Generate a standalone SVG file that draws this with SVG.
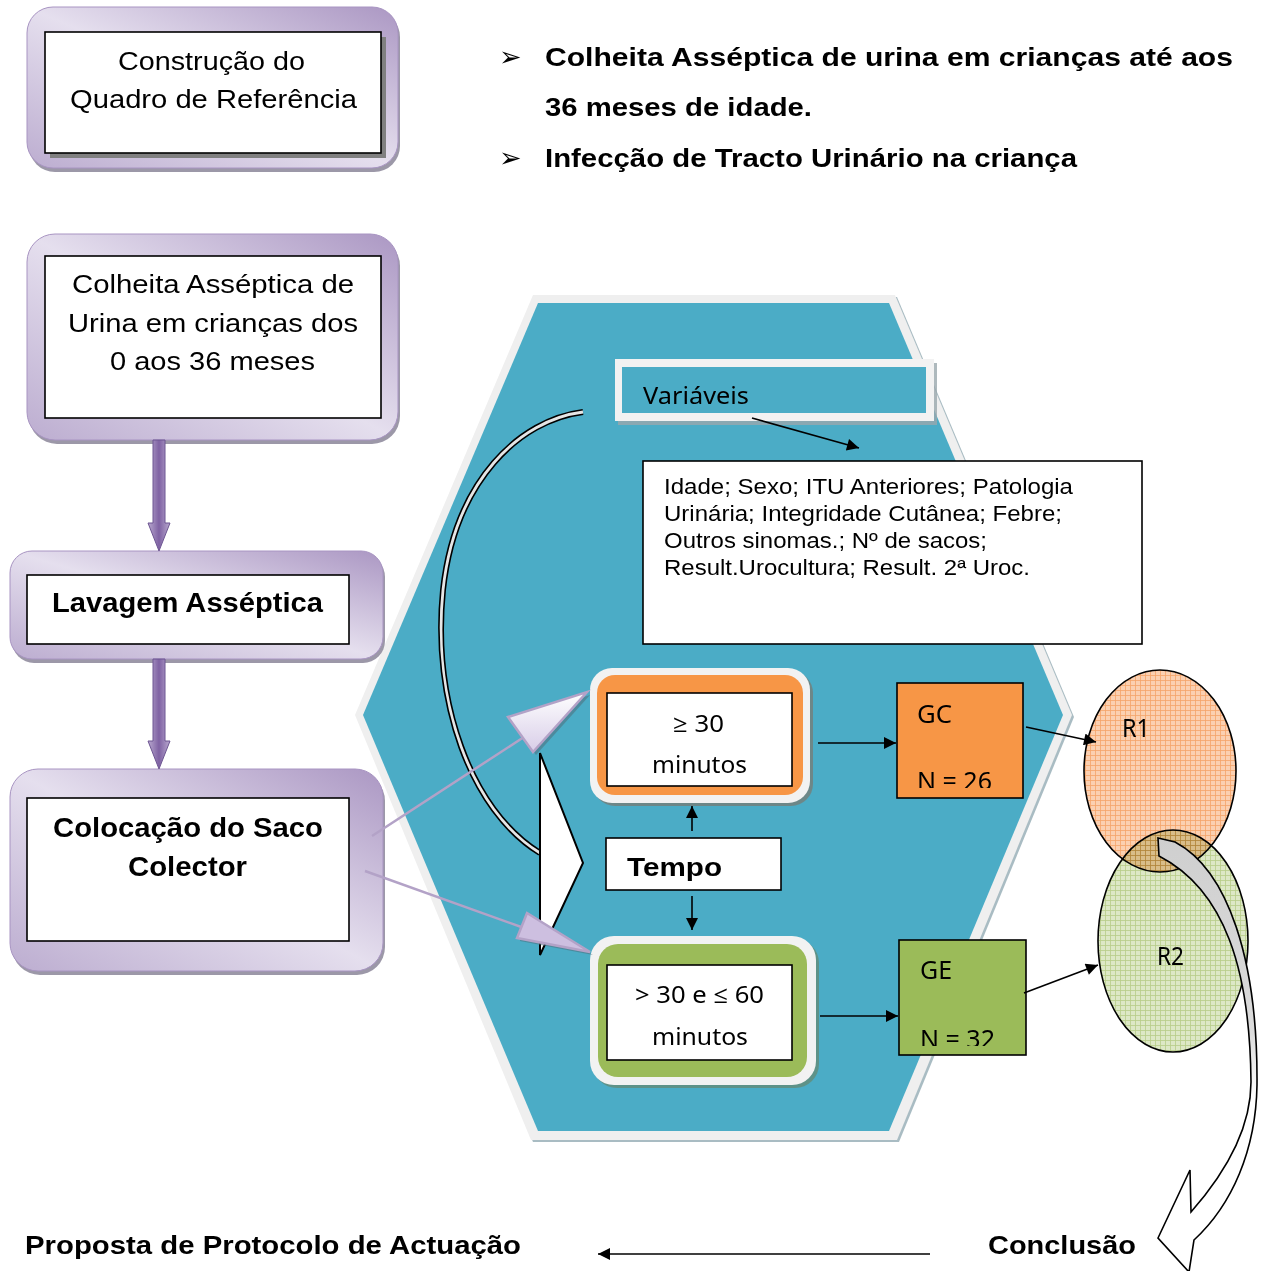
<svg xmlns="http://www.w3.org/2000/svg" width="1261" height="1271" viewBox="0 0 1261 1271">
<defs>
<style>
.ar{font-family:"Liberation Sans",Arial,sans-serif;fill:#000}
.b{font-weight:bold}
.cal{font-family:"Noto Sans","Open Sans",sans-serif;fill:#000}
.wbox{fill:#fff;stroke:#000;stroke-width:1.6}
.pbox{fill:url(#pg);stroke:#a894c2;stroke-width:1}
.pshadow{fill:#9c98a8}
.conn{stroke:#000;stroke-width:1.6;fill:none}
.lav{stroke:#b3a2c7;stroke-width:2.5;fill:none}
.bul{font-family:"DejaVu Sans",sans-serif;fill:#000}
</style>
<linearGradient id="pg" x1="0" y1="1" x2="1" y2="0">
<stop offset="0" stop-color="#bcadd0"/>
<stop offset="0.5" stop-color="#e5dfee"/>
<stop offset="1" stop-color="#ab97c3"/>
</linearGradient>
<linearGradient id="shaft" x1="0" y1="0" x2="1" y2="0">
<stop offset="0" stop-color="#b9a9cf"/>
<stop offset="0.5" stop-color="#7f62a3"/>
<stop offset="1" stop-color="#b9a9cf"/>
</linearGradient>
<linearGradient id="lg" x1="0" y1="0" x2="0" y2="1">
<stop offset="0" stop-color="#ffffff"/>
<stop offset="1" stop-color="#d8cde8"/>
</linearGradient>
<linearGradient id="bandg" x1="0" y1="0" x2="0" y2="1">
<stop offset="0" stop-color="#cfcfcf"/>
<stop offset="0.45" stop-color="#dcdcdc"/>
<stop offset="0.6" stop-color="#ffffff"/>
</linearGradient>
<pattern id="pOr" width="5" height="5" patternUnits="userSpaceOnUse">
<rect width="5" height="5" fill="#fbd0b1"/>
<path d="M0,0.5H5M0.5,0V5" stroke="#f5a469" stroke-width="0.8"/>
</pattern>
<pattern id="pGr" width="5" height="5" patternUnits="userSpaceOnUse">
<rect width="5" height="5" fill="#dde8c6"/>
<path d="M0,0.5H5M0.5,0V5" stroke="#b7cd89" stroke-width="0.8"/>
</pattern>
<marker id="arr" viewBox="0 0 10 10" refX="10" refY="5" markerUnits="userSpaceOnUse" markerWidth="15" markerHeight="12" orient="auto">
<path d="M0,0L10,5L0,10z" fill="#000"/>
</marker>
<clipPath id="clipGC"><rect x="897" y="683" width="127" height="105"/></clipPath>
<clipPath id="clipGE"><rect x="899" y="940" width="128" height="106"/></clipPath>
</defs>

<rect width="1261" height="1271" fill="#fff"/>

<g id="hexagon">
<polygon points="535,297 897,297 1074,717 899,1142 533,1142 357,717" fill="#a9bcc3"/>
<polygon points="533,295 895,295 1072,715 897,1140 531,1140 355,715" fill="#efefef"/>
<polygon points="538,303 889,303 1063,715 889,1131 538,1131 363,715" fill="#4bacc6"/>
</g>

<g id="bullets">
<text class="bul" x="499" y="66" font-size="27">➢</text>
<text class="bul" x="499" y="167" font-size="27">➢</text>
<text class="ar b" x="545" y="66" font-size="26" textLength="688" lengthAdjust="spacingAndGlyphs">Colheita Asséptica de urina em crianças até aos</text>
<text class="ar b" x="545" y="116" font-size="26" textLength="267" lengthAdjust="spacingAndGlyphs">36 meses de idade.</text>
<text class="ar b" x="545" y="167" font-size="26" textLength="532" lengthAdjust="spacingAndGlyphs">Infecção de Tracto Urinário na criança</text>
</g>

<g id="node-construcao">
<rect class="pshadow" x="29" y="11" width="371" height="161" rx="26"/>
<rect class="pbox" x="27" y="7" width="371" height="161" rx="26"/>
<rect x="50" y="37" width="336" height="121" fill="#808080"/>
<rect class="wbox" x="45" y="32" width="336" height="121"/>
<text class="ar" x="118" y="70" font-size="26" textLength="187" lengthAdjust="spacingAndGlyphs">Construção do</text>
<text class="ar" x="70" y="108" font-size="26" textLength="287" lengthAdjust="spacingAndGlyphs">Quadro de Referência</text>
</g>

<g id="node-colheita">
<rect class="pshadow" x="29" y="238" width="371" height="206" rx="28"/>
<rect class="pbox" x="27" y="234" width="371" height="206" rx="28"/>
<rect class="wbox" x="45" y="256" width="336" height="162"/>
<text class="ar" x="72" y="293" font-size="26" textLength="282" lengthAdjust="spacingAndGlyphs">Colheita Asséptica de</text>
<text class="ar" x="68" y="332" font-size="26" textLength="290" lengthAdjust="spacingAndGlyphs">Urina em crianças dos</text>
<text class="ar" x="110" y="370" font-size="26" textLength="205" lengthAdjust="spacingAndGlyphs">0 aos 36 meses</text>
</g>

<g id="node-lavagem">
<rect class="pshadow" x="12" y="555" width="373" height="108" rx="22"/>
<rect class="pbox" x="10" y="551" width="373" height="108" rx="22"/>
<rect class="wbox" x="27" y="575" width="322" height="69"/>
<text class="ar b" x="52" y="612" font-size="27" textLength="271" lengthAdjust="spacingAndGlyphs">Lavagem Asséptica</text>
</g>

<g id="node-colocacao">
<rect class="pshadow" x="12" y="773" width="373" height="202" rx="28"/>
<rect class="pbox" x="10" y="769" width="373" height="202" rx="28"/>
<rect class="wbox" x="27" y="798" width="322" height="143"/>
<text class="ar b" x="53" y="837" font-size="27" textLength="270" lengthAdjust="spacingAndGlyphs">Colocação do Saco</text>
<text class="ar b" x="128" y="876" font-size="27" textLength="119" lengthAdjust="spacingAndGlyphs">Colector</text>
</g>

<g id="node-variaveis">
<rect x="618" y="363" width="319" height="62" fill="#9aa7ad" opacity="0.8"/>
<rect x="615" y="359" width="319" height="62" fill="#f2f2f2"/>
<rect x="622" y="367" width="304" height="46" fill="#4bacc6"/>
<text class="cal" x="643" y="404" font-size="24" textLength="106" lengthAdjust="spacingAndGlyphs">Variáveis</text>
</g>

<g id="node-lista">
<rect class="wbox" x="643" y="461" width="499" height="183"/>
<text class="ar" x="664" y="494" font-size="21.5" textLength="409" lengthAdjust="spacingAndGlyphs">Idade; Sexo; ITU Anteriores; Patologia</text>
<text class="ar" x="664" y="521" font-size="21.5" textLength="398" lengthAdjust="spacingAndGlyphs">Urinária; Integridade Cutânea; Febre;</text>
<text class="ar" x="664" y="548" font-size="21.5" textLength="323" lengthAdjust="spacingAndGlyphs">Outros sinomas.; Nº de sacos;</text>
<text class="ar" x="664" y="575" font-size="21.5" textLength="366" lengthAdjust="spacingAndGlyphs">Result.Urocultura; Result. 2ª Uroc.</text>
</g>

<g id="node-30">
<rect x="593" y="671" width="220" height="135" rx="22" fill="#8b6a55" opacity="0.55"/>
<rect x="590" y="668" width="220" height="135" rx="22" fill="#f2f2f2"/>
<rect x="597" y="675" width="206" height="120" rx="18" fill="#f79646"/>
<rect class="wbox" x="607" y="693" width="185" height="93" stroke-width="2"/>
<text class="cal" x="673" y="732" font-size="24" textLength="51" lengthAdjust="spacingAndGlyphs">≥ 30</text>
<text class="cal" x="652" y="773" font-size="24" textLength="95" lengthAdjust="spacingAndGlyphs">minutos</text>
</g>

<g id="node-tempo">
<rect class="wbox" x="606" y="838" width="175" height="52"/>
<text class="ar b" x="627" y="876" font-size="26" textLength="95" lengthAdjust="spacingAndGlyphs">Tempo</text>
</g>

<g id="node-3060">
<rect x="593" y="939" width="226" height="149" rx="24" fill="#6f7d55" opacity="0.55"/>
<rect x="590" y="936" width="226" height="149" rx="24" fill="#f2f2f2"/>
<rect x="598" y="944" width="209" height="133" rx="20" fill="#9bbb59"/>
<rect class="wbox" x="607" y="965" width="185" height="95" stroke-width="2"/>
<text class="cal" x="635" y="1003" font-size="24" textLength="129" lengthAdjust="spacingAndGlyphs">&gt; 30 e ≤ 60</text>
<text class="cal" x="652" y="1045" font-size="24" textLength="96" lengthAdjust="spacingAndGlyphs">minutos</text>
</g>

<g id="node-gc">
<rect x="897" y="683" width="126" height="115" fill="#f79646" stroke="#000" stroke-width="1.6"/>
<text class="cal" x="917" y="723" font-size="25" textLength="35" lengthAdjust="spacingAndGlyphs">GC</text>
<text class="cal" x="917" y="790" font-size="25" textLength="75" lengthAdjust="spacingAndGlyphs" clip-path="url(#clipGC)">N = 26</text>
</g>

<g id="node-ge">
<rect x="899" y="940" width="127" height="115" fill="#9bbb59" stroke="#000" stroke-width="1.6"/>
<text class="cal" x="920" y="979" font-size="25" textLength="32" lengthAdjust="spacingAndGlyphs">GE</text>
<text class="cal" x="920" y="1048" font-size="25" textLength="75" lengthAdjust="spacingAndGlyphs" clip-path="url(#clipGE)">N = 32</text>
</g>

<g id="node-r1">
<ellipse cx="1160" cy="771" rx="76" ry="101" fill="url(#pOr)" stroke="#000" stroke-width="1.6"/>
<text class="cal" x="1122" y="737" font-size="25" textLength="28" lengthAdjust="spacingAndGlyphs">R1</text>
</g>

<g id="node-r2">
<ellipse cx="1173" cy="941" rx="75" ry="111" fill="url(#pGr)" style="mix-blend-mode:multiply"/>
<ellipse cx="1173" cy="941" rx="75" ry="111" fill="none" stroke="#000" stroke-width="1.6"/>
<text class="cal" x="1157" y="965" font-size="25" textLength="27" lengthAdjust="spacingAndGlyphs">R2</text>
</g>

<g id="node-proposta">
<text class="ar b" x="25" y="1254" font-size="26" textLength="496" lengthAdjust="spacingAndGlyphs">Proposta de Protocolo de Actuação</text>
</g>

<g id="node-conclusao">
<text class="ar b" x="988" y="1254" font-size="26" textLength="148" lengthAdjust="spacingAndGlyphs">Conclusão</text>
</g>

<g id="connectors">
<polygon points="153,440 165,440 165,523 170,523 159,551 148,523 153,523" fill="url(#shaft)" stroke="#6d5592" stroke-width="1"/>
<polygon points="153,659 165,659 165,741 170,741 159,769 148,741 153,741" fill="url(#shaft)" stroke="#6d5592" stroke-width="1"/>

<path d="M583,412 C520,420 455,480 443,590 C432,700 470,810 540,853" fill="none" stroke="#000" stroke-width="6"/>
<path d="M583,412 C520,420 455,480 443,590 C432,700 470,810 540,853" fill="none" stroke="#e6e6e6" stroke-width="2.8"/>
<polygon points="540,753 583,863 540,955" fill="#fff" stroke="#000" stroke-width="2"/>

<line class="lav" x1="372" y1="836" x2="524" y2="737"/>
<polygon points="511,720 590,695 536,755" fill="#4e6f7c" opacity="0.55"/>
<polygon points="508,717 587,692 533,752" fill="url(#lg)" stroke="#b3a2c7" stroke-width="2.5"/>
<line class="lav" x1="365" y1="871" x2="524" y2="928"/>
<polygon points="520,941 527,916 593,955" fill="#4e6f7c" opacity="0.55"/>
<polygon points="527,913 590,952 517,938" fill="#cdbfe0" stroke="#b3a2c7" stroke-width="2.5"/>

<line class="conn" x1="752" y1="418" x2="859" y2="448" marker-end="url(#arr)"/>
<line class="conn" x1="818" y1="743" x2="896" y2="743" marker-end="url(#arr)"/>
<line class="conn" x1="820" y1="1016" x2="898" y2="1016" marker-end="url(#arr)"/>
<line class="conn" x1="692" y1="831" x2="692" y2="806" marker-end="url(#arr)"/>
<line class="conn" x1="692" y1="896" x2="692" y2="930" marker-end="url(#arr)"/>
<line class="conn" x1="1026" y1="727" x2="1096" y2="742" marker-end="url(#arr)"/>
<line class="conn" x1="1024" y1="993" x2="1098" y2="965" marker-end="url(#arr)"/>
<line class="conn" x1="930" y1="1254" x2="598" y2="1254" marker-end="url(#arr)"/>

<path d="M1158,838 L1175,842 C1228,870 1258,960 1257,1085 C1256,1150 1232,1205 1194,1240 L1189,1272 L1158,1238 L1190,1170 L1191,1212 C1228,1170 1251,1125 1251,1082 C1250,970 1225,890 1159,856 Z" fill="url(#bandg)" stroke="#000" stroke-width="1.6" stroke-linejoin="miter"/>
</g>
</svg>
